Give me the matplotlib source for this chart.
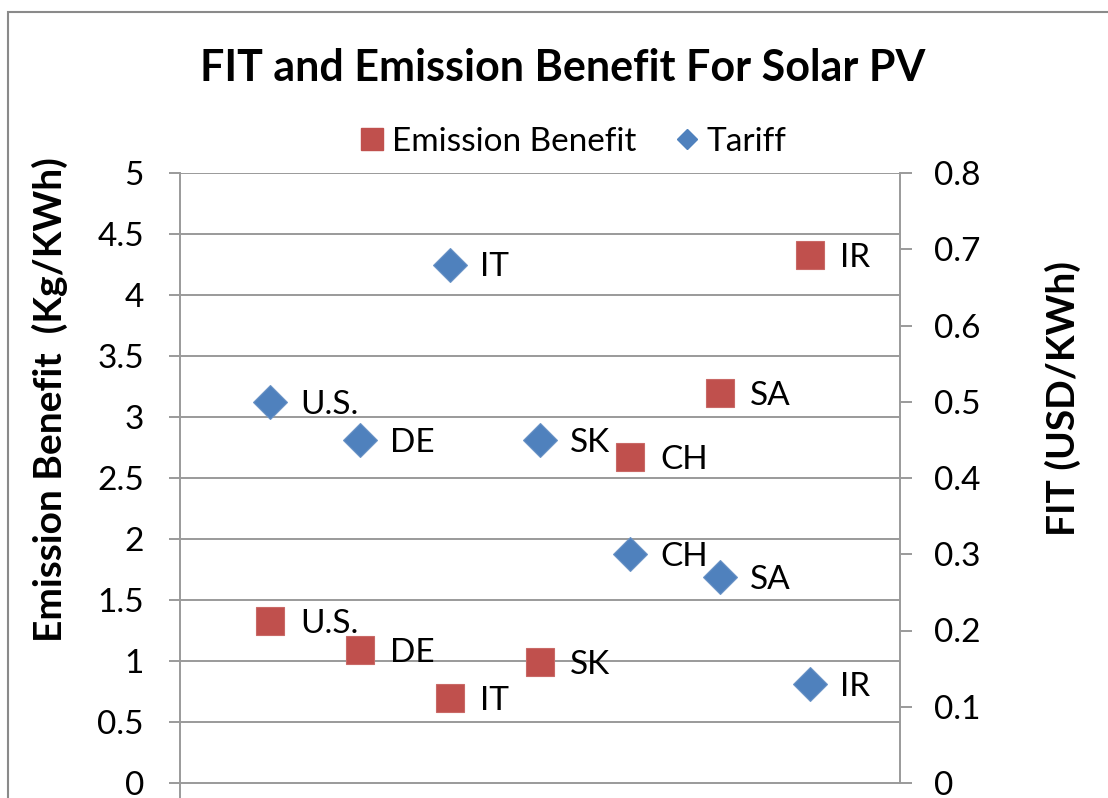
import numpy as np
import matplotlib
matplotlib.use('Agg')
import matplotlib.pyplot as plt
from matplotlib.lines import Line2D
from matplotlib.patches import Rectangle

# data
countries = ['U.S.', 'DE', 'IT', 'SK', 'CH', 'SA', 'IR']
emission = [1.33, 1.09, 0.70, 0.99, 2.67, 3.20, 4.33]   # Kg/KWh, left axis
tariff = [0.50, 0.45, 0.68, 0.45, 0.30, 0.27, 0.13]     # USD/KWh, right axis
left_ticks = [0, 0.5, 1, 1.5, 2, 2.5, 3, 3.5, 4, 4.5, 5]
left_labels = ['0', '0.5', '1', '1.5', '2', '2.5', '3', '3.5', '4', '4.5', '5']
right_ticks = [0, 0.1, 0.2, 0.3, 0.4, 0.5, 0.6, 0.7, 0.8]
right_labels = ['0', '0.1', '0.2', '0.3', '0.4', '0.5', '0.6', '0.7', '0.8']

red = '#C0504D'
blue = '#4F81BD'
gray = '#9a9a9a'

plt.rcParams['font.family'] = ['Lato', 'DejaVu Sans']

W, H = 1108, 798
fig = plt.figure(figsize=(W / 100, H / 100), dpi=100)

# outer chart border (runs off the right and bottom)
fig.patches.append(Rectangle((8 / W, -0.1), 1.2, 1.1 - 12 / H, transform=fig.transFigure,
                             fill=False, edgecolor='#8a8a8a', linewidth=1.5))

ax = fig.add_axes([180 / W, (H - 807.4) / H, 720 / W, (807.4 - 173) / H])
ax2 = ax.twinx()

x = np.arange(1, len(countries) + 1)
ax.plot(x, emission, 's', color=red, markersize=20, mec='#c96966', mew=0.8, zorder=3)
ax2.plot(x, tariff, 'D', color=blue, markersize=17, mec='#6a93c6', mew=0.8, zorder=3)

for xi, c, e in zip(x, countries, emission):
    ax.annotate(c, (xi, e), xytext=(30, -3), textcoords='offset pixels',
                va='center', ha='left', fontsize=24)
for xi, c, t in zip(x, countries, tariff):
    ax2.annotate(c, (xi, t), xytext=(30, -3), textcoords='offset pixels',
                 va='center', ha='left', fontsize=24)

ax.set_xlim(0, 8)
ax.set_ylim(-0.2, 5)
ax2.set_ylim(-0.032, 0.8)
ax.set_xticks([])

ax.set_yticks(left_ticks)
ax.set_yticklabels(left_labels)
ax2.set_yticks(right_ticks)
ax2.set_yticklabels(right_labels)
ax.tick_params(axis='y', length=8, width=1.4, color=gray, labelsize=24, pad=18)
ax2.tick_params(axis='y', length=8.5, width=1.4, color=gray, labelsize=24, pad=16)

ax.yaxis.grid(True, color=gray, linewidth=1.4)
ax.set_axisbelow(True)

for a in (ax, ax2):
    a.spines['top'].set_visible(False)
    a.spines['bottom'].set_visible(False)
    a.spines['left'].set_color(gray)
    a.spines['right'].set_color(gray)
    a.spines['left'].set_linewidth(1.4)
    a.spines['right'].set_linewidth(1.4)
ax2.spines['right'].set_bounds(0, 0.8)
ax.spines['right'].set_visible(False)
ax2.spines['left'].set_visible(False)

fig.text(563 / W, 1 - 68 / H, 'FIT and Emission Benefit For Solar PV',
         ha='center', va='center', fontsize=31, fontweight='bold')
fig.text(50 / W, 1 - 400 / H, 'Emission Benefit  (Kg/KWh)', rotation=90,
         ha='center', va='center', fontsize=28, fontweight='bold')
fig.text(1063 / W, 1 - 398 / H, 'FIT (USD/KWh)', rotation=90,
         ha='center', va='center', fontsize=28, fontweight='bold')

handles = [Line2D([], [], marker='s', linestyle='none', color=red, markersize=16),
           Line2D([], [], marker='D', linestyle='none', color=blue, markersize=10)]
fig.legend(handles, ['Emission Benefit', 'Tariff'], loc='center',
           bbox_to_anchor=(571 / W, 1 - 142 / H), ncol=2, frameon=False,
           fontsize=24, handletextpad=0.1, columnspacing=1.0, handlelength=1.0)

fig.savefig('out.png', dpi=100)
